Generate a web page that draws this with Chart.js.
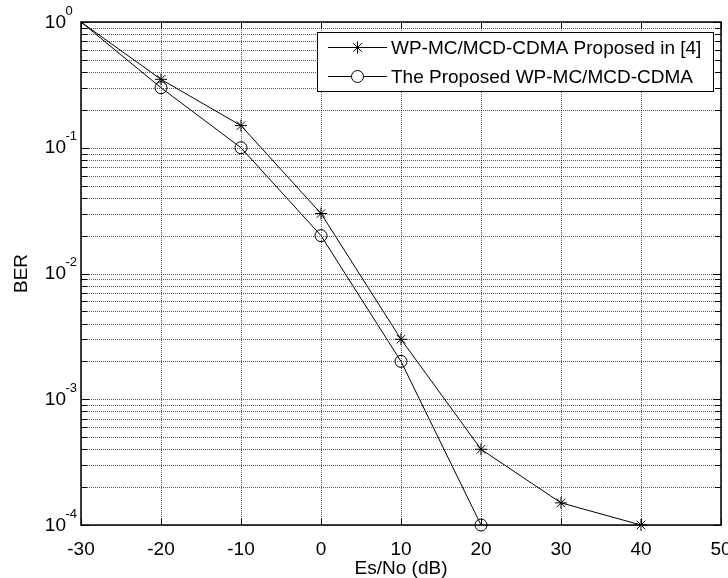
<!DOCTYPE html>
<html>
<head>
<meta charset="utf-8">
<script src="https://cdn.jsdelivr.net/npm/chart.js@4.4.1/dist/chart.umd.min.js"></script>
<style>
  html, body { margin: 0; padding: 0; background: #fff; }
</style>
</head>
<body>
<canvas id="berChart" width="728" height="578"></canvas>
<script>
// values
const snrDb = [-30, -20, -10, 0, 10, 20, 30, 40];
const berRef4 = [1, 0.35, 0.15, 0.03, 0.003, 0.0004, 0.00015, 0.0001];
const snrDbProposed = [-30, -20, -10, 0, 10, 20];
const berProposed = [1, 0.3, 0.1, 0.02, 0.002, 0.0001];
const xTicks = [-30, -20, -10, 0, 10, 20, 30, 40, 50];
const yDecades = [0, -1, -2, -3, -4];
const seriesNames = ['WP-MC/MCD-CDMA Proposed in [4]', 'The Proposed WP-MC/MCD-CDMA'];

const FONT = '"Liberation Sans", Arial, sans-serif';

// minor log grid: 1..9 x 10^e for each decade
const yGrid = [];
yDecades.forEach(e => {
    if (e === 0) { yGrid.push(1); return; }
    for (let m = 1; m <= 9; m++) yGrid.push(m * Math.pow(10, e));
});

const matlabAxes = {
    id: 'matlabAxes',
    beforeDatasetsDraw(chart) {
        const { ctx, chartArea: a, scales: { x, y } } = chart;
        ctx.save();
        ctx.strokeStyle = 'rgba(0,0,0,0.65)';
        ctx.lineWidth = 1;
        ctx.setLineDash([1, 1]);
        ctx.beginPath();
        xTicks.forEach(v => {
            const px = Math.round(x.getPixelForValue(v)) + 0.5;
            ctx.moveTo(px, a.top);
            ctx.lineTo(px, a.bottom);
        });
        yGrid.forEach(v => {
            const py = Math.round(y.getPixelForValue(v)) + 0.5;
            ctx.moveTo(a.left, py);
            ctx.lineTo(a.right, py);
        });
        ctx.stroke();
        ctx.restore();
    },
    afterDatasetsDraw(chart) {
        const { ctx, chartArea: a, scales: { x, y } } = chart;
        ctx.save();
        ctx.strokeStyle = '#000';
        ctx.lineWidth = 1;
        ctx.beginPath();
        // inward ticks, all four sides
        xTicks.forEach(v => {
            const px = Math.round(x.getPixelForValue(v)) + 0.5;
            ctx.moveTo(px, a.bottom); ctx.lineTo(px, a.bottom - 6);
            ctx.moveTo(px, a.top); ctx.lineTo(px, a.top + 6);
        });
        yGrid.forEach(v => {
            const py = Math.round(y.getPixelForValue(v)) + 0.5;
            const len = Number.isInteger(Math.log10(v)) ? 8 : 6;
            ctx.moveTo(a.left, py); ctx.lineTo(a.left + len, py);
            ctx.moveTo(a.right, py); ctx.lineTo(a.right - len, py);
        });
        ctx.stroke();
        ctx.lineWidth = 1.5;
        ctx.strokeRect(a.left, a.top, a.right - a.left, a.bottom - a.top);

        // 10^n labels
        ctx.fillStyle = '#000';
        ctx.textBaseline = 'middle';
        yDecades.forEach(e => {
            const py = y.getPixelForValue(Math.pow(10, e));
            ctx.font = '19px ' + FONT;
            ctx.textAlign = 'right';
            ctx.fillText('10', a.left - 15, py + 0.5);
            ctx.font = '13px ' + FONT;
            ctx.textAlign = 'left';
            ctx.fillText(String(e), a.left - 15.5, py - 11);
        });
        ctx.restore();
    },
    afterDraw(chart) {
        const { ctx } = chart;
        const bx = 317.5, by = 32.5, bw = 396, bh = 59;
        ctx.save();
        ctx.fillStyle = '#fff';
        ctx.fillRect(bx, by, bw, bh);
        ctx.strokeStyle = '#000';
        ctx.lineWidth = 1;
        ctx.strokeRect(bx, by, bw, bh);
        chart.data.datasets.forEach((ds, i) => {
            const ry = 47.5 + i * 29;
            ctx.strokeStyle = '#000';
            ctx.lineWidth = 1;
            ctx.beginPath();
            ctx.moveTo(328, ry);
            ctx.lineTo(387, ry);
            ctx.stroke();
            ctx.fillStyle = '#fff';
            Chart.helpers.drawPoint(ctx, {
                pointStyle: ds.pointStyle, radius: 6, rotation: 0, borderWidth: 1
            }, 357.5, ry);
            ctx.fillStyle = '#000';
            ctx.font = '19px ' + FONT;
            ctx.textAlign = 'left';
            ctx.textBaseline = 'middle';
            ctx.fillText(ds.label, 391, ry + 1);
        });
        ctx.restore();
    }
};

const hideFirst = c => (c.dataIndex === 0 ? 0 : 6);

new Chart(document.getElementById('berChart'), {
    type: 'line',
    data: {
        datasets: [{
            label: seriesNames[0],
            data: snrDb.map((v, i) => ({ x: v, y: berRef4[i] })),
            borderColor: '#000',
            borderWidth: 1,
            tension: 0,
            pointStyle: 'star',
            pointRadius: hideFirst,
            pointBorderColor: '#000',
            pointBorderWidth: 1,
            clip: false
        }, {
            label: seriesNames[1],
            data: snrDbProposed.map((v, i) => ({ x: v, y: berProposed[i] })),
            borderColor: '#000',
            borderWidth: 1,
            tension: 0,
            pointStyle: 'circle',
            pointRadius: hideFirst,
            pointBackgroundColor: 'rgba(0,0,0,0)',
            pointBorderColor: '#000',
            pointBorderWidth: 1,
            clip: false
        }]
    },
    options: {
        responsive: false,
        animation: false,
        events: [],
        layout: { padding: { left: 0, top: 22, right: 7, bottom: 0 } },
        plugins: {
            legend: { display: false },
            tooltip: { enabled: false }
        },
        scales: {
            x: {
                type: 'linear',
                min: -30,
                max: 50,
                afterBuildTicks: s => { s.ticks = xTicks.map(v => ({ value: v })); },
                afterFit: s => { s.height = 53; s.paddingLeft = 0; s.paddingRight = 0; },
                grid: { display: false },
                border: { display: false },
                ticks: {
                    autoSkip: false,
                    maxRotation: 0,
                    padding: 5,
                    color: '#000',
                    font: { family: FONT, size: 19 }
                },
                title: {
                    display: true,
                    text: 'Es/No (dB)',
                    color: '#000',
                    font: { family: FONT, size: 19, lineHeight: 1 },
                    padding: { top: 0, bottom: 0 }
                }
            },
            y: {
                type: 'logarithmic',
                min: 1e-4,
                max: 1,
                afterFit: s => { s.width = 81; s.paddingTop = 0; s.paddingBottom = 0; },
                grid: { display: false },
                border: { display: false },
                ticks: { display: false },
                title: {
                    display: true,
                    text: 'BER',
                    color: '#000',
                    font: { family: FONT, size: 19 },
                    padding: { top: 10, bottom: 0 }
                }
            }
        }
    },
    plugins: [matlabAxes]
});
</script>
</body>
</html>
